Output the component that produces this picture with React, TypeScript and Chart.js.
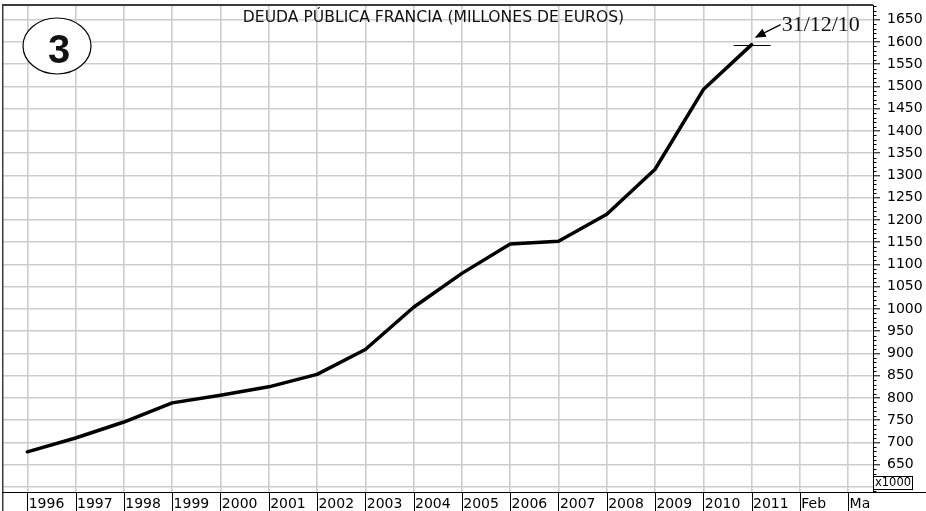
import React, { useEffect, useRef } from "react";
import { Chart, registerables } from "chart.js";

Chart.register(...registerables);

// ---- data ----
const years = [1996, 1997, 1998, 1999, 2000, 2001, 2002, 2003, 2004, 2005, 2006, 2007, 2008, 2009, 2010, 2011];
const debtValues = [679, 710, 746, 789, 806, 825, 853, 909, 1004, 1080, 1146, 1152, 1213, 1314, 1493, 1594];
const xTickValues = [1996, 1997, 1998, 1999, 2000, 2001, 2002, 2003, 2004, 2005, 2006, 2007, 2008, 2009, 2010, 2011, 2012, 2013];
const xTickLabels = ["1996", "1997", "1998", "1999", "2000", "2001", "2002", "2003", "2004", "2005", "2006", "2007", "2008", "2009", "2010", "2011", "Feb", "Ma"];
const xMin = 1995.476;
const xMax = 2013.513;
const yMin = 588.7;
const yMax = 1683.1;
const yStep = 50;
const yMinorStep = 10;
const yFirstLabel = 650;
const titleText = "DEUDA PÚBLICA FRANCIA (MILLONES DE EUROS)";
const annotationText = "31/12/10";
const badgeText = "3";
const unitText = "x1000";

const decorPlugin = {
  id: "decor",
  beforeDraw(chart: any) {
    const { ctx } = chart;
    ctx.save();
    ctx.fillStyle = "#ffffff";
    ctx.fillRect(0, 0, chart.width, chart.height);
    ctx.restore();
  },
  afterDraw(chart: any) {
    const { ctx, chartArea: ca } = chart;
    const x = chart.scales.x;
    const y = chart.scales.y;
    ctx.save();

    // minor ticks on right axis
    ctx.strokeStyle = "#000";
    ctx.lineWidth = 1;
    const start = Math.ceil(y.min / yMinorStep) * yMinorStep;
    for (let v = start; v <= y.max; v += yMinorStep) {
      if (v % yStep === 0) continue;
      const py = Math.round(y.getPixelForValue(v)) + 0.5;
      ctx.beginPath();
      ctx.moveTo(ca.right, py);
      ctx.lineTo(ca.right + 3.5, py);
      ctx.stroke();
    }

    // frame: top and left
    ctx.strokeStyle = "#3c3c3c";
    ctx.lineWidth = 2;
    ctx.beginPath();
    ctx.moveTo(ca.left, ca.top);
    ctx.lineTo(ca.right, ca.top);
    ctx.stroke();
    ctx.lineWidth = 1.5;
    ctx.beginPath();
    ctx.moveTo(ca.left + 0.75, ca.top);
    ctx.lineTo(ca.left + 0.75, chart.height);
    ctx.stroke();

    // label row
    ctx.strokeStyle = "#000";
    ctx.lineWidth = 1;
    ctx.beginPath();
    ctx.moveTo(ca.left, ca.bottom + 0.5);
    ctx.lineTo(chart.width, ca.bottom + 0.5);
    ctx.stroke();
    x.ticks.forEach((t: any) => {
      const px = Math.round(x.getPixelForValue(t.value)) + 0.5;
      ctx.beginPath();
      ctx.moveTo(px, ca.bottom);
      ctx.lineTo(px, chart.height);
      ctx.stroke();
    });

    // x1000 box
    const bx = ca.right + 0.5;
    const by = ca.bottom - 15.5;
    ctx.fillStyle = "#fff";
    ctx.fillRect(bx, by, 39, 13);
    ctx.strokeStyle = "#000";
    ctx.strokeRect(bx, by, 39, 13);
    ctx.fillStyle = "#000";
    ctx.font = "11.5px 'DejaVu Sans'";
    ctx.textAlign = "left";
    ctx.textBaseline = "middle";
    ctx.fillText(unitText, bx + 1.5, by + 7);

    // title
    ctx.font = "15.6px 'DejaVu Sans'";
    ctx.textAlign = "center";
    ctx.textBaseline = "middle";
    ctx.fillStyle = "#111";
    ctx.fillText(titleText, 433.5, 17.5);

    // circled badge
    ctx.beginPath();
    ctx.ellipse(57, 46, 34, 28, 0, 0, Math.PI * 2);
    ctx.fillStyle = "#fff";
    ctx.fill();
    ctx.strokeStyle = "#000";
    ctx.lineWidth = 1.2;
    ctx.stroke();
    ctx.fillStyle = "#111";
    ctx.font = "bold 40px 'Liberation Sans'";
    ctx.textAlign = "center";
    ctx.textBaseline = "alphabetic";
    ctx.fillText(badgeText, 59, 63);

    // annotation at last point
    const li = years.length - 1;
    const px = x.getPixelForValue(years[li]);
    const py = y.getPixelForValue(debtValues[li]);
    ctx.strokeStyle = "#000";
    ctx.lineWidth = 1.2;
    ctx.beginPath();
    ctx.moveTo(px - 18, Math.round(py) + 0.5);
    ctx.lineTo(px + 19, Math.round(py) + 0.5);
    ctx.stroke();
    // arrow
    const tx = px + 3, ty = py - 7;
    const sx = px + 29, sy = py - 20;
    ctx.lineWidth = 1.3;
    ctx.beginPath();
    ctx.moveTo(sx, sy);
    ctx.lineTo(tx + 6, ty - 3);
    ctx.stroke();
    const ang = Math.atan2(ty - sy, tx - sx);
    const hl = 11, hw = 4.5;
    ctx.beginPath();
    ctx.moveTo(tx, ty);
    ctx.lineTo(tx - hl * Math.cos(ang) + hw * Math.sin(ang), ty - hl * Math.sin(ang) - hw * Math.cos(ang));
    ctx.lineTo(tx - hl * Math.cos(ang) - hw * Math.sin(ang), ty - hl * Math.sin(ang) + hw * Math.cos(ang));
    ctx.closePath();
    ctx.fillStyle = "#000";
    ctx.fill();
    ctx.font = "22px 'Liberation Serif'";
    ctx.textAlign = "left";
    ctx.textBaseline = "alphabetic";
    ctx.fillStyle = "#111";
    ctx.fillText(annotationText, px + 30, py - 14);

    ctx.restore();
  },
};

export default function App() {
  const canvasRef = useRef<HTMLCanvasElement | null>(null);

  useEffect(() => {
    document.body.style.margin = "0";
    const canvas = canvasRef.current;
    if (!canvas) return;
    const chart = new Chart(canvas, {
      type: "line",
      data: {
        datasets: [
          {
            label: "Deuda",
            data: years.map((yr, i) => ({ x: yr, y: debtValues[i] })),
            borderColor: "#000",
            borderWidth: 3.5,
            pointRadius: 0,
            tension: 0,
            borderCapStyle: "round",
            borderJoinStyle: "round",
          },
        ],
      },
      plugins: [decorPlugin],
      options: {
        responsive: false,
        animation: false,
        devicePixelRatio: 1,
        layout: { padding: { left: 2, top: 5, right: 0, bottom: 0 } },
        plugins: {
          legend: { display: false },
          tooltip: { enabled: false },
          title: { display: false },
        },
        scales: {
          x: {
            type: "linear",
            min: xMin,
            max: xMax,
            afterBuildTicks: (s: any) => {
              s.ticks = xTickValues.map((v) => ({ value: v }));
            },
            afterFit: (s: any) => {
              s.height = 19;
              s.paddingLeft = 0;
              s.paddingRight = 0;
              s.paddingTop = 0;
              s.paddingBottom = 0;
            },
            grid: { color: "#cdcdcd", lineWidth: 1.6, drawTicks: false },
            border: { display: false },
            ticks: {
              autoSkip: false,
              maxRotation: 0,
              minRotation: 0,
              align: "start",
              padding: 3.5,
              color: "#000",
              font: { family: "'DejaVu Sans'", size: 14 },
              callback: (v: any) => {
                const i = xTickValues.indexOf(Number(v));
                return i >= 0 ? "\u200A" + xTickLabels[i] : "";
              },
            },
          },
          y: {
            type: "linear",
            position: "right",
            min: yMin,
            max: yMax,
            afterFit: (s: any) => {
              s.width = 53;
              s.paddingLeft = 0;
              s.paddingRight = 0;
              s.paddingTop = 0;
              s.paddingBottom = 0;
            },
            grid: {
              color: "#cdcdcd",
              lineWidth: 1.6,
              drawTicks: true,
              tickLength: 7,
              tickColor: "#000",
              tickWidth: 1,
            },
            border: { display: true, color: "#000", width: 1 },
            ticks: {
              stepSize: yStep,
              includeBounds: false,
              autoSkip: false,
              padding: 7,
              color: "#000",
              font: { family: "'DejaVu Sans'", size: 14 },
              callback: (v: any) => (Number(v) >= yFirstLabel ? String(v) : ""),
            },
          },
        },
      },
    } as any);
    return () => chart.destroy();
  }, []);

  return (
    <canvas
      ref={canvasRef}
      width={926}
      height={511}
      style={{ display: "block", width: 926, height: 511 }}
    />
  );
}
